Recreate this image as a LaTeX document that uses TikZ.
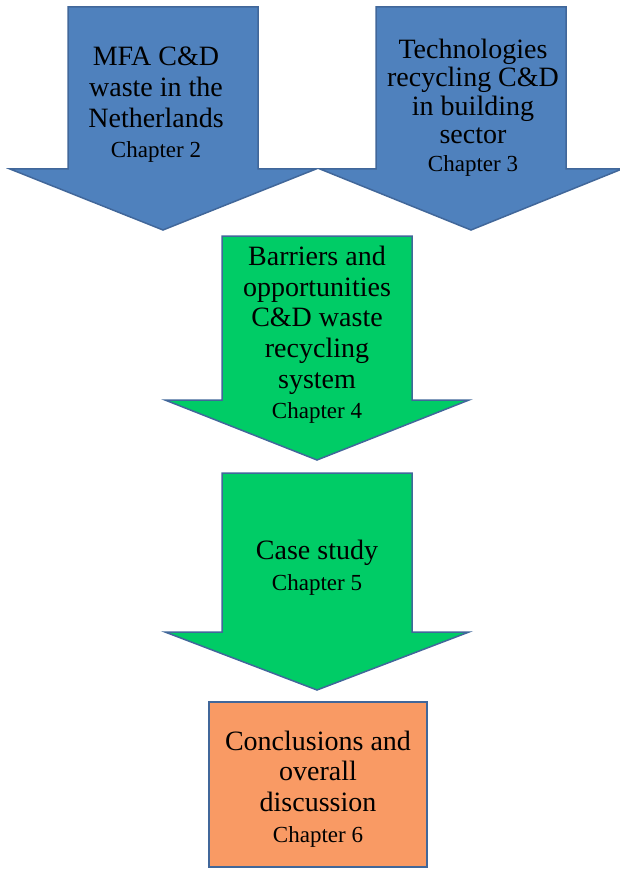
\documentclass[tikz,border=0pt]{standalone}
\usepackage{fontspec}
\setmainfont{Liberation Serif}
\usepackage{tikz}
\definecolor{blueA}{HTML}{4F81BD}
\definecolor{greenA}{HTML}{00CC66}
\definecolor{orangeA}{HTML}{F99A64}
\definecolor{edgeA}{HTML}{41679A}
\newcommand{\Chap}[1]{{\fontsize{23}{30}\selectfont #1}}
\tikzset{
  shapeline/.style={draw=edgeA, line width=1.5pt, line join=miter},
  boxtext/.style={align=center, font=\fontsize{28}{30.6}\selectfont, inner sep=0pt}
}

\begin{document}
\begin{tikzpicture}[x=1pt, y=-1pt]

  \useasboundingbox (0,0) rectangle (620,869);

  %% #1 fill, #2 centre x, #3 top, #4 half shaft, #5 head base, #6 half head, #7 tip
  \newcommand\Arr[7]{%
    \draw[shapeline, fill=#1] (#2-#4, #3) -- (#2+#4, #3) -- (#2+#4, #5) -- (#2+#6, #5)
      -- (#2, #7) -- (#2-#6, #5) -- (#2-#4, #5) -- cycle;}

  \Arr{blueA}{163}{7}{95}{169}{153}{230}    %% chapter 2
  \Arr{blueA}{471}{7}{95}{169}{151}{230}    %% chapter 3
  \Arr{greenA}{317}{236}{95}{400}{152}{460} %% chapter 4
  \Arr{greenA}{317}{473}{95}{632}{152}{690} %% chapter 5
  \draw[shapeline, fill=orangeA] (209,702) rectangle (427,867); %% chapter 6

  \node[boxtext] (mfa) at (156,105) {MFA C\&D\\waste in the\\Netherlands\\\Chap{Chapter 2}};
  \node[boxtext, font=\fontsize{28}{28.3}\selectfont] (tech) at (473,108)
    {Technologies\\recycling C\&D\\in building\\sector\\\Chap{Chapter 3}};
  \node[boxtext] (barr) at (317,335) {Barriers and\\opportunities\\C\&D waste\\recycling\\system\\\Chap{Chapter 4}};
  \node[boxtext] (case) at (317,568) {Case study\\\Chap{Chapter 5}};
  \node[boxtext] (concl) at (318,789) {Conclusions and\\overall\\discussion\\\Chap{Chapter 6}};

\end{tikzpicture}
\end{document}
